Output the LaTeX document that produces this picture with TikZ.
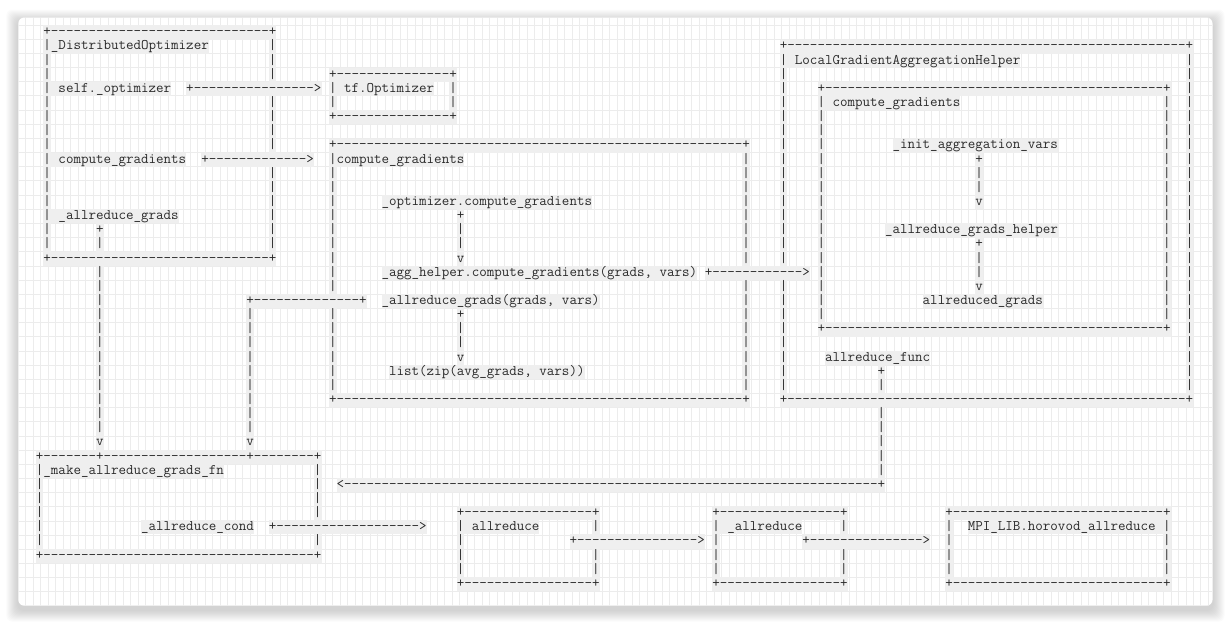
\documentclass[tikz,border=0pt]{standalone}
\usepackage{tikz}
\definecolor{cardgrid}{HTML}{ECECEC}
\definecolor{codebg}{HTML}{EFEFEF}
\definecolor{codeink}{HTML}{2A2A2A}
\ExplSyntaxOn
\cs_new_eq:NN \repchar \prg_replicate:nn
\ExplSyntaxOff
\newcommand\dsh{-\kern0pt}
\newlength\chw
\settowidth\chw{\ttfamily\fontsize{14}{14}\selectfont M}
\pgfmathsetmacro\monosize{14*7.515/\chw}
\tikzset{
  seg/.style={anchor=base west, inner sep=0pt, fill=codebg, text=codeink,
    text height=10.4pt, text depth=3.74pt,
    font=\ttfamily\fontsize{\monosize}{14.14}\selectfont},
  gridline/.style={draw=cardgrid, line width=0.75pt},
}
% one run of characters, placed at a column and a row of the character grid
\newcommand\seg[3]{\node[seg] (s-#1-#2) at ({35.74+7.515*#1},{35.83+14.14*#2}) {#3};}
\newcommand\vcol[3]{\foreach \rr in {#2,...,#3}{\seg{#1}{\rr}{|}}}
\newcommand\hrow[3]{\seg{#1}{#3}{+\repchar{#2-#1-1}{\dsh}+}}

\begin{document}
\begin{tikzpicture}[x=1pt,y=-1pt]
\useasboundingbox (0,0) rectangle (1231,624);
% card
\foreach \i in {1,...,12}
  \fill[black, opacity=0.016, rounded corners=6pt] ({18.3-\i},{17.5-\i+4}) rectangle ({1212.5+\i},{605.7+\i+4});
\fill[white, rounded corners=6pt] (18.3,17.5) rectangle (1212.5,605.7);
\begin{scope}
  \clip[rounded corners=6pt] (18.3,17.5) rectangle (1212.5,605.7);
  \foreach \k in {0,...,158} \draw[gridline] ({25.7+7.485*\k},17.5) -- ({25.7+7.485*\k},605.7);
  \foreach \k in {0,...,41} \draw[gridline] (18.3,{25+14.17*\k}) -- (1212.5,{25+14.17*\k});
\end{scope}

% _DistributedOptimizer
\hrow{1}{31}{0}
\seg{1}{1}{|\_DistributedOptimizer}
\vcol{1}{2}{3}
\seg{1}{4}{| self.\_optimizer}
\vcol{1}{5}{8}
\seg{1}{9}{| compute\_gradients}
\vcol{1}{10}{12}
\seg{1}{13}{| \_allreduce\_grads}
\vcol{1}{14}{15}
\vcol{31}{1}{3}
\vcol{31}{5}{8}
\vcol{31}{10}{15}
\hrow{1}{31}{16}
\seg{8}{14}{+}
\seg{8}{15}{|}
\vcol{8}{17}{28}
\seg{8}{29}{v}
\seg{20}{4}{+\repchar{16}{\dsh}>}
\seg{22}{9}{+\repchar{13}{\dsh}>}

% tf.Optimizer
\hrow{39}{55}{3}
\seg{39}{4}{| tf.Optimizer}
\seg{55}{4}{|}
\seg{39}{5}{|}
\seg{55}{5}{|}
\hrow{39}{55}{6}

% compute_gradients
\hrow{39}{94}{8}
\seg{39}{9}{|compute\_gradients}
\vcol{39}{10}{18}
\vcol{39}{20}{25}
\vcol{94}{9}{16}
\vcol{94}{18}{25}
\hrow{39}{94}{26}
\seg{46}{12}{\_optimizer.compute\_gradients}
\seg{56}{13}{+}
\vcol{56}{14}{15}
\seg{56}{16}{v}
\seg{46}{17}{\_agg\_helper.compute\_gradients(grads, vars)}
\seg{89}{17}{+\repchar{12}{\dsh}>}
\seg{28}{19}{+\repchar{14}{\dsh}+}
\seg{46}{19}{\_allreduce\_grads(grads, vars)}
\seg{56}{20}{+}
\vcol{56}{21}{22}
\seg{56}{23}{v}
\seg{47}{24}{list(zip(avg\_grads, vars))}
\vcol{28}{20}{28}
\seg{28}{29}{v}

% LocalGradientAggregationHelper
\hrow{99}{153}{1}
\seg{99}{2}{| LocalGradientAggregationHelper}
\vcol{99}{3}{16}
\vcol{99}{18}{25}
\vcol{153}{2}{25}
\hrow{99}{153}{26}
\hrow{104}{150}{4}
\seg{104}{5}{| compute\_gradients}
\vcol{104}{6}{20}
\vcol{150}{5}{20}
\hrow{104}{150}{21}
\seg{114}{8}{\_init\_aggregation\_vars}
\seg{125}{9}{+}
\vcol{125}{10}{11}
\seg{125}{12}{v}
\seg{113}{14}{\_allreduce\_grads\_helper}
\seg{125}{15}{+}
\vcol{125}{16}{17}
\seg{125}{18}{v}
\seg{118}{19}{allreduced\_grads}
\seg{105}{23}{allreduce\_func}
\seg{112}{24}{+}
\seg{112}{25}{|}
\vcol{112}{27}{31}
\seg{40}{32}{<\repchar{71}{\dsh}+}

% _make_allreduce_grads_fn
\seg{0}{30}{+\repchar{7}{\dsh}+\repchar{19}{\dsh}+\repchar{8}{\dsh}+}
\seg{0}{31}{|\_make\_allreduce\_grads\_fn}
\vcol{0}{32}{36}
\vcol{37}{31}{34}
\seg{37}{36}{|}
\hrow{0}{37}{37}
\seg{14}{35}{\_allreduce\_cond}
\seg{31}{35}{+\repchar{19}{\dsh}>}

% allreduce
\hrow{56}{74}{34}
\seg{56}{35}{| allreduce}
\seg{74}{35}{|}
\vcol{56}{36}{38}
\vcol{74}{37}{38}
\hrow{56}{74}{39}
\seg{71}{36}{+\repchar{16}{\dsh}>}

% _allreduce
\hrow{90}{107}{34}
\seg{90}{35}{| \_allreduce}
\seg{107}{35}{|}
\vcol{90}{36}{38}
\vcol{107}{37}{38}
\hrow{90}{107}{39}
\seg{102}{36}{+\repchar{15}{\dsh}>}

% MPI_LIB.horovod_allreduce
\hrow{121}{150}{34}
\seg{121}{35}{|}
\seg{124}{35}{MPI\_LIB.horovod\_allreduce |}
\vcol{121}{36}{38}
\vcol{150}{36}{38}
\hrow{121}{150}{39}
\end{tikzpicture}
\end{document}
